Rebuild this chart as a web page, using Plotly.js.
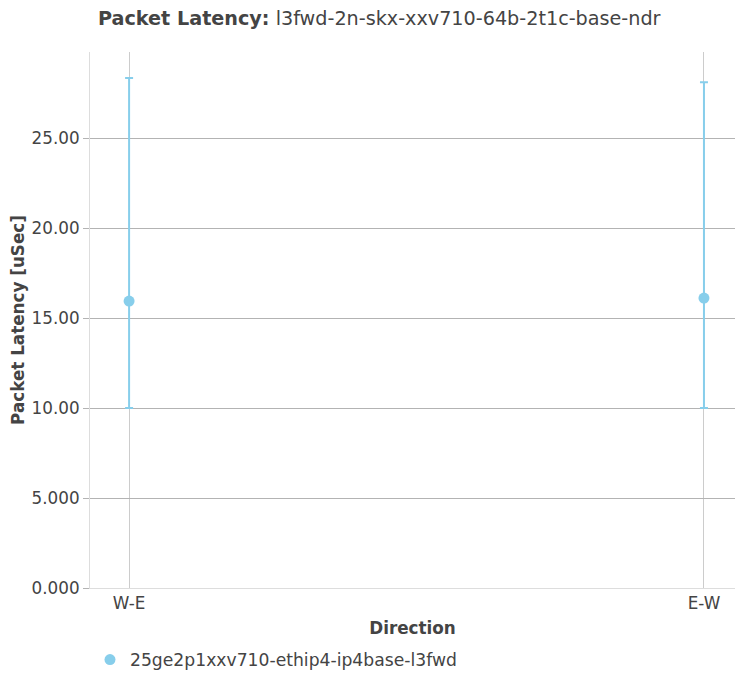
<!DOCTYPE html>
<html>
<head>
<meta charset="utf-8">
<script src="https://cdn.plot.ly/plotly-3.0.1.min.js"></script>
<style>html,body{margin:0;padding:0;background:#fff;}#chart{width:735px;height:674px;}</style>
</head>
<body>
<div id="chart"></div>
<script>
const directions = ["W-E", "E-W"];
const latencyAvg = [15.94, 16.11];
const latencyMax = [28.33, 28.1];
const latencyMin = [10.0, 10.0];
const seriesName = "25ge2p1xxv710-ethip4-ip4base-l3fwd";
const yTicks = [0, 5, 10, 15, 20, 25];

const errPlus = latencyMax.map((v, i) => v - latencyAvg[i]);
const errMinus = latencyAvg.map((v, i) => v - latencyMin[i]);

const trace = {
  type: "scatter",
  mode: "markers",
  x: directions,
  y: latencyAvg,
  name: seriesName,
  marker: {color: "#87ceeb", size: 11},
  error_y: {
    type: "data",
    symmetric: false,
    array: errPlus,
    arrayminus: errMinus,
    color: "#87ceeb",
    thickness: 2,
    width: 4
  }
};

const layout = {
  width: 735,
  height: 674,
  font: {family: "DejaVu Sans, sans-serif", size: 16.8, color: "#444"},
  title: {
    text: "<b>Packet Latency:</b> l3fwd-2n-skx-xxv710-64b-2t1c-base-ndr",
    x: 0.516, xanchor: "center", xref: "container",
    y: 0.973, yanchor: "middle", yref: "container",
    font: {size: 19.2, color: "#444"}
  },
  margin: {l: 90, r: 0, t: 52, b: 86},
  showlegend: true,
  legend: {orientation: "h", x: 0.0, xanchor: "left", xref: "paper",
           y: 0.021, yanchor: "middle", yref: "container", font: {size: 17.2}},
  xaxis: {
    type: "category",
    range: [-0.068, 1.054],
    showgrid: true, gridcolor: "#cccccc", gridwidth: 1,
    showline: true, linecolor: "#dddddd", linewidth: 1,
    ticks: "", tickfont: {size: 16.8},
    title: {text: "<b>Direction</b>", font: {size: 16.8}, standoff: 10},
    zeroline: false, automargin: false
  },
  yaxis: {
    range: [0, 29.78],
    tickvals: yTicks,
    tickformat: ".4r",
    showgrid: true, gridcolor: "#b3b3b3", gridwidth: 1,
    showline: true, linecolor: "#dddddd", linewidth: 1,
    ticks: "outside", ticklen: 6, tickcolor: "#b3b3b3",
    tickfont: {size: 16.8},
    title: {text: "<b>Packet Latency [uSec]</b>", font: {size: 16.8}, standoff: 2},
    zeroline: false, automargin: false
  },
  plot_bgcolor: "#fff",
  paper_bgcolor: "#fff"
};

Plotly.newPlot("chart", [trace], layout, {displayModeBar: false});
</script>
</body>
</html>
